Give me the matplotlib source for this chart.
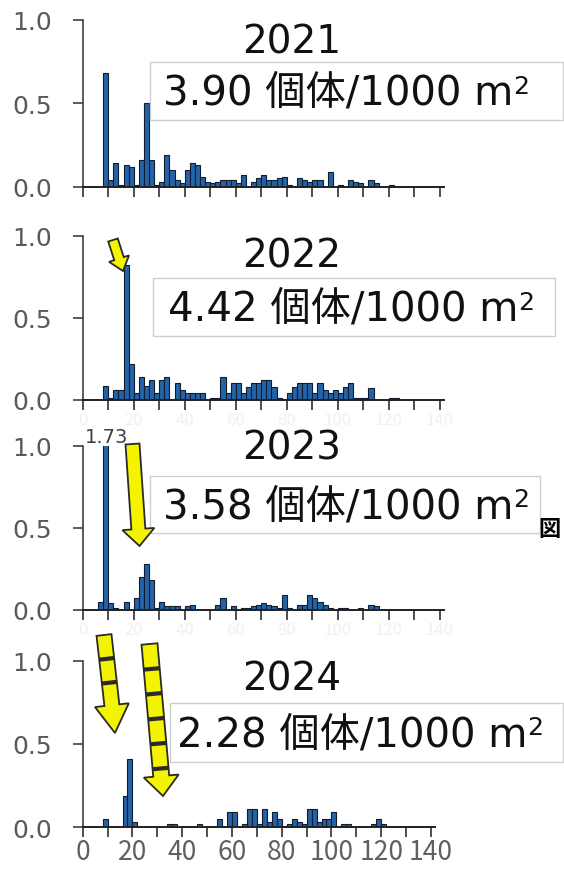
import matplotlib
matplotlib.use("Agg")
import matplotlib.pyplot as plt
import numpy as np
from matplotlib.patches import FancyArrow, Rectangle

plt.rcParams['font.family'] = ['DejaVu Sans', 'Noto Sans CJK JP']

# length bins (left edge, 2-unit classes)
bin_left = list(range(0, 140, 2))
years = ["2021", "2022", "2023", "2024"]
densities = ["3.90", "4.42", "3.58", "2.28"]

freq_2021 = [0, 0, 0, 0, 0.68, 0.04, 0.14, 0.01, 0.13, 0.12,
             0.01, 0.16, 0.50, 0.16, 0.01, 0.03, 0.19, 0.10, 0.04, 0.02,
             0.10, 0.14, 0.13, 0.06, 0.03, 0.02, 0.03, 0.04, 0.04, 0.04,
             0.02, 0.07, 0.00, 0.03, 0.05, 0.07, 0.04, 0.04, 0.05, 0.06,
             0.01, 0.00, 0.05, 0.04, 0.03, 0.04, 0.04, 0.00, 0.09, 0.00,
             0.01, 0.00, 0.04, 0.03, 0.02, 0.00, 0.04, 0.02, 0.00, 0.00,
             0.01, 0, 0, 0, 0, 0, 0, 0, 0, 0]
freq_2022 = [0, 0, 0, 0, 0.085, 0.01, 0.06, 0.06, 0.82, 0.22,
             0.04, 0.14, 0.085, 0.12, 0.04, 0.12, 0.14, 0.00, 0.10, 0.06,
             0.04, 0.04, 0.04, 0.04, 0.00, 0.01, 0.01, 0.14, 0.04, 0.10,
             0.10, 0.04, 0.08, 0.10, 0.10, 0.12, 0.12, 0.08, 0.01, 0.00,
             0.04, 0.08, 0.10, 0.10, 0.10, 0.04, 0.10, 0.06, 0.04, 0.06,
             0.04, 0.08, 0.10, 0.01, 0.01, 0.01, 0.07, 0.00, 0.00, 0.00,
             0.01, 0.01, 0, 0, 0, 0, 0, 0, 0, 0]
freq_2023 = [0, 0, 0, 0.05, 1.73, 0.04, 0.01, 0.00, 0.05, 0.00,
             0.07, 0.20, 0.28, 0.18, 0.01, 0.05, 0.02, 0.02, 0.02, 0.00,
             0.02, 0.03, 0.00, 0.00, 0.00, 0.00, 0.03, 0.07, 0.00, 0.02,
             0.00, 0.01, 0.01, 0.02, 0.03, 0.04, 0.03, 0.02, 0.01, 0.09,
             0.01, 0.00, 0.03, 0.03, 0.09, 0.07, 0.05, 0.03, 0.01, 0.00,
             0.01, 0.01, 0.00, 0.00, 0.01, 0.00, 0.03, 0.02, 0.00, 0.00,
             0, 0, 0, 0, 0, 0, 0, 0, 0, 0]
freq_2024 = [0, 0, 0, 0, 0.05, 0, 0, 0, 0.19, 0.41,
             0.03, 0, 0, 0, 0, 0, 0, 0.02, 0.02, 0,
             0, 0, 0, 0.02, 0, 0, 0, 0.05, 0, 0.09,
             0.09, 0, 0.02, 0.11, 0.11, 0.02, 0.11, 0.03, 0.09, 0.05,
             0.01, 0.02, 0.05, 0.03, 0.02, 0.11, 0.11, 0.03, 0.05, 0.05,
             0.09, 0.00, 0.02, 0.02, 0, 0, 0, 0, 0.02, 0.05,
             0.02, 0, 0, 0, 0, 0, 0, 0, 0, 0]
freqs = [freq_2021, freq_2022, freq_2023, freq_2024]

W, H = 564, 870
fig = plt.figure(figsize=(W / 100, H / 100), dpi=100)

# panel frames in pixels: left, top(1.0), bottom(0.0), width
frames = [(82.7, 21, 187.7, 361), (82.7, 237, 400.7, 361),
          (82.7, 446.7, 610.7, 361), (82.7, 661.7, 828.3, 352)]
xlab_color = [None, '#eef0f6', '#eef0f6', '#606060']
xlab_size = [0, 12, 12, 19]

axes = []
for i, (l, t, b, w) in enumerate(frames):
    ax = fig.add_axes([l / W, (H - b) / H, w / W, (b - t) / H])
    ax.set_facecolor('none')
    ax.bar(bin_left, freqs[i], width=2, align='edge', color='#2463a8',
           edgecolor='#101c30', linewidth=0.8)
    ax.set_xlim(0, 141.5)
    ax.set_ylim(0, 1.0)
    ax.set_yticks([0, 0.5, 1.0], ['0.0', '0.5', '1.0'])
    ax.set_xticks(np.arange(0, 141, 10))
    if xlab_color[i] is None:
        ax.set_xticklabels([])
    else:
        ax.set_xticklabels([str(v) if v % 20 == 0 else '' for v in range(0, 141, 10)],
                           color=xlab_color[i], fontsize=xlab_size[i],
                           family=['Noto Sans CJK JP'])
    ax.tick_params(axis='y', direction='out', length=7, width=1.2,
                   color='#404040', labelcolor='#595959', labelsize=18, pad=15)
    ax.tick_params(axis='x', direction='out', length=7, width=1.2,
                   color='#303030', pad=1)
    for s in ['top', 'right']:
        ax.spines[s].set_visible(False)
    ax.spines['left'].set_color('#404040')
    ax.spines['bottom'].set_color('#202020')
    ax.spines['left'].set_linewidth(1.2)
    ax.spines['bottom'].set_linewidth(1.4)
    axes.append(ax)

# overlay in pixel coordinates for boxes, labels and arrows
ov = fig.add_axes([0, 0, 1, 1])
ov.set_xlim(0, W)
ov.set_ylim(H, 0)
ov.axis('off')
ov.set_facecolor('none')

year_y = [43, 257, 449, 680]
boxes = [(150, 63, 563, 121), (153, 279, 555, 337),
         (150, 477, 540, 534), (170, 704, 563, 763)]
text_x = [163, 168, 163, 177]
renderer = fig.canvas.get_renderer()
for i in range(4):
    ov.text(292, year_y[i], years[i], ha='center', va='center',
            fontsize=28, color='#111111')
    x0, y0, x1, y1 = boxes[i]
    ov.add_patch(Rectangle((x0, y0), x1 - x0, y1 - y0, facecolor='white',
                           edgecolor='#cfcfcf', linewidth=1.0, zorder=2))
    cy = (y0 + y1) / 2
    t = ov.text(text_x[i], cy + 2, densities[i] + " 個体/1000 m", ha='left',
                va='center', fontsize=29, color='#111111', zorder=3)
    bb = t.get_window_extent(renderer)
    px, _ = ov.transData.inverted().transform((bb.x1, bb.y1))
    ov.text(px, cy - 17, "2", ha='left', va='top', fontsize=18,
            color='#111111', zorder=3)

ov.text(107, 438, "1.73", ha='center', va='center', fontsize=14, color='#404040')
ov.text(549, 530, "図", ha='center', va='center', fontsize=16,
        fontweight='bold', family=['Noto Sans CJK JP'], color='black')


def yellow_arrow(tail, tip, shaft, head_w, head_len, seg=None):
    dx, dy = tip[0] - tail[0], tip[1] - tail[1]
    ov.add_patch(FancyArrow(tail[0], tail[1], dx, dy, width=shaft,
                            head_width=head_w, head_length=head_len,
                            length_includes_head=True, facecolor='#f4f400',
                            edgecolor='#2a2a2a', linewidth=1.3, zorder=4))
    if seg:
        L = np.hypot(dx, dy)
        ux, uy = dx / L, dy / L
        nx, ny = -uy, ux
        for d in np.arange(seg, L - head_len + 1, seg):
            cx, cy = tail[0] + ux * d, tail[1] + uy * d
            ov.plot([cx - nx * shaft / 2, cx + nx * shaft / 2],
                    [cy - ny * shaft / 2, cy + ny * shaft / 2],
                    color='#2a2a2a', linewidth=3, zorder=5,
                    solid_capstyle='butt')


yellow_arrow((113, 241), (123, 272), 10, 21, 13)
yellow_arrow((132.5, 445), (139.5, 547), 14, 32, 17)
yellow_arrow((104, 636), (115, 734), 15, 34, 28, seg=24)
yellow_arrow((149.5, 645), (163, 797), 16, 35, 20, seg=25)

fig.savefig("out.png", dpi=100)
